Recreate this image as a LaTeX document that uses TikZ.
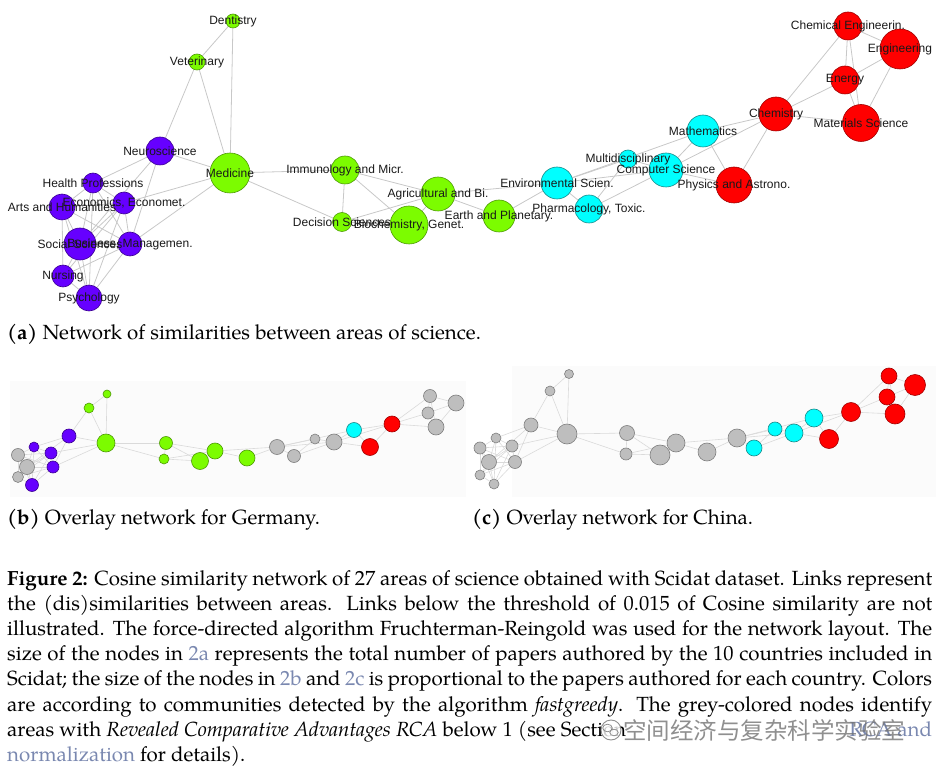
\documentclass[tikz,border=0pt]{standalone}
\usepackage{fontspec}
\setmainfont{texgyrepagella-regular.otf}[BoldFont=texgyrepagella-bold.otf,ItalicFont=texgyrepagella-italic.otf,BoldItalicFont=texgyrepagella-bolditalic.otf]
\newfontfamily\labfont{Liberation Sans}
\newfontfamily\cjkfont{Noto Sans CJK SC}
\definecolor{cg}{HTML}{7CFC00}\definecolor{cgd}{HTML}{4E9A06}
\definecolor{cp}{HTML}{6600FF}\definecolor{cpd}{HTML}{3A0090}
\definecolor{cc}{HTML}{00FFFF}\definecolor{ccd}{HTML}{1A8A8A}
\definecolor{cr}{HTML}{FF0000}\definecolor{crd}{HTML}{A00000}
\definecolor{cy}{HTML}{BEBEBE}\definecolor{cyd}{HTML}{7F7F7F}
\definecolor{lk}{HTML}{7A88B0}
\definecolor{edgea}{HTML}{C8C8C8}
\definecolor{edgeb}{HTML}{DADADA}
\newcommand{\lkt}[1]{\textcolor{lk}{#1}}
\pgfdeclarelayer{bg}
\pgfsetlayers{bg,main}
\tikzset{
  dot/.style={circle,inner sep=0pt,minimum size={2*#1},line width=0.6pt},
  lab/.style={font=\labfont\fontsize{12}{14}\selectfont,text=black!90,inner sep=0pt},
  ea/.style={draw=edgea,line width=0.8pt},
  eb/.style={draw=edgeb,line width=0.6pt},
  captext/.style={anchor=base west,inner sep=0pt,font=\fontsize{20.5}{24}\selectfont},
  panelbg/.style={fill=black!1.5,draw=none}
}
\def\edgelist{den/vet,den/med,vet/med,vet/neu,neu/med,med/imm,med/dec,med/eco,med/bus,neu/hea,neu/bus,neu/soc,hea/art,hea/eco,hea/soc,hea/bus,hea/psy,art/eco,art/soc,art/bus,art/nur,art/psy,eco/soc,eco/bus,eco/nur,eco/psy,soc/bus,soc/nur,soc/psy,bus/nur,bus/psy,nur/psy,imm/dec,imm/bio,imm/agr,dec/agr,dec/bio,agr/bio,agr/ear,agr/env,ear/env,env/pha,env/mul,env/com,env/mat,pha/mul,pha/com,mul/com,com/mat,com/che,com/phy,mat/phy,mat/che,phy/che,che/cen,che/ene,che/mas,cen/eng,cen/ene,cen/mas,eng/ene,eng/mas,ene/mas}
\begin{document}
\begin{tikzpicture}[x=1pt,y=-1pt]
\useasboundingbox (0,0) rectangle (938,770);
% ---------- panel (a) nodes
\foreach \nm/\x/\y/\r/\c in {
 den/233/21/7/g, vet/197/62/8/g, med/230/173/20/g,
 neu/160/151/14/p, hea/93/183/10/p, art/62/207/13/p, eco/124/203/11/p,
 soc/80/244/16/p, bus/130/244/12/p, nur/63/276/11/p, psy/89/298/13/p,
 imm/345/170/14/g, dec/342/222/9.5/g, bio/409/225/19/g, agr/438/194/17/g, ear/499/216/16/g,
 env/557/183/16/c, pha/589/209/14/c, mul/628/159/9/c, com/666/170/17/c, mat/703/131/16/c,
 che/776/114/17/r, phy/734/185/18/r, mas/861/123/18.5/r, ene/845/80/14/r, eng/900/49/20/r, cen/848/26/14/r}
 {\node[dot=\r,fill=c\c,draw=c\c d] (a\nm) at (\x,\y) {};}
% ---------- panel (b) nodes (Germany)
\foreach \nm/\x/\y/\r/\c in {
 art/18/455/6.5/y, soc/27/467/7.5/y, nur/18/477/5.5/y, hea/34/447/5/p, eco/51/453/6/p,
 bus/53/467/6/p, psy/32/485/6.5/p, neu/69/436/7/p, vet/89/408/5/g, den/107/394/4/g,
 med/106/443/9/g, imm/166/443/6.5/g, dec/164/459/5/g, bio/200/461/8.5/g, agr/215/451/8/g,
 ear/247/458/8/g, env/277/447/7.5/y, pha/294/456/6.5/y, mul/315/439/5/y, com/334/442/8/y,
 mat/354/430/7.5/c, phy/370/447/8.5/r, che/392/424/8/r, cen/430/396/6.5/y, ene/428/413/6/y,
 eng/456/403/8/y, mas/436/427/8/y}
 {\node[dot=\r,fill=c\c,draw=c\c d] (b\nm) at (\x,\y) {};}
% ---------- panel (c) nodes (China)
\foreach \nm/\x/\y/\r/\c in {
 art/480/448/6/y, hea/496/438/5/y, eco/512/446/6/y, soc/489/462/7.5/y, bus/515/462/6.5/y,
 nur/480/475/5/y, psy/494/484/5/y, neu/531/425/7/y, vet/550/391/5/y, den/569/374/4.5/y,
 med/567/434/10/y, imm/627/433/7.5/y, dec/626/454/6/y, bio/660/455/10/y, agr/676/443/9/y,
 ear/707/452/9/y, env/737/438/9/y, pha/754/448/8/c, mul/775/429/7/c, com/794/433/9/c,
 mat/814/418/9/c, phy/829/439/9.5/r, che/851/412/9.5/r, cen/889/376/8/r, ene/887/397/8/r,
 eng/915/385/10.5/r, mas/895/414/10/r}
 {\node[dot=\r,fill=c\c,draw=c\c d] (c\nm) at (\x,\y) {};}
% ---------- edges and panel backgrounds
\begin{pgfonlayer}{bg}
 \fill[panelbg] (10,381) rectangle (466,497);
 \fill[panelbg] (512,366) rectangle (936,497);
 \foreach \u/\v in \edgelist {
   \draw[ea] (a\u) -- (a\v);
   \draw[eb] (b\u) -- (b\v);
   \draw[eb] (c\u) -- (c\v);
 }
\end{pgfonlayer}
% ---------- labels of panel (a)
\node[lab] (lden) at (aden) {Dentistry};
\node[lab] (lvet) at (avet) {Veterinary};
\node[lab] (lmed) at (amed) {Medicine};
\node[lab] (lneu) at (aneu) {Neuroscience};
\node[lab] (lhea) at (ahea) {Health Professions};
\node[lab] (lart) at (aart) {Arts and Humanities};
\node[lab] (leco) at (aeco) {Economics, Economet.};
\node[lab] (lsoc) at (asoc) {Social Sciences};
\node[lab] (lbus) at (abus) {Business, Managemen.};
\node[lab] (lnur) at (anur) {Nursing};
\node[lab] (lpsy) at (apsy) {Psychology};
\node[lab] (limm) at (aimm) {Immunology and Micr.};
\node[lab] (ldec) at (adec) {Decision Sciences};
\node[lab] (lbio) at (abio) {Biochemistry, Genet.};
\node[lab] (lagr) at (aagr) {Agricultural and Bi.};
\node[lab] (lear) at (aear) {Earth and Planetary.};
\node[lab] (lenv) at (aenv) {Environmental Scien.};
\node[lab] (lpha) at (apha) {Pharmacology, Toxic.};
\node[lab] (lmul) at (amul) {Multidisciplinary};
\node[lab] (lcom) at (acom) {Computer Science};
\node[lab] (lmat) at (amat) {Mathematics};
\node[lab] (lche) at (ache) {Chemistry};
\node[lab] (lphy) at (aphy) {Physics and Astrono.};
\node[lab] (lmas) at (amas) {Materials Science};
\node[lab] (lene) at (aene) {Energy};
\node[lab] (leng) at (aeng) {Engineering};
\node[lab] (lcen) at (acen) {Chemical Engineerin.};
% ---------- sub-captions
\node[captext] (capa) at (7,340) {\textbf{(a)} Network of similarities between areas of science.};
\node[captext] (capb) at (7,524) {\textbf{(b)} Overlay network for Germany.};
\node[captext] (capc) at (472,524) {\textbf{(c)} Overlay network for China.};
% ---------- main caption
\node[captext] (l1) at (7,585) {\makebox[925pt][s]{\textbf{Figure 2:} Cosine similarity network of 27 areas of science obtained with Scidat dataset. Links represent}};
\node[captext] (l2) at (7,610.24) {\makebox[925pt][s]{the (dis)similarities between areas. Links below the threshold of 0.015 of Cosine similarity are not}};
\node[captext] (l3) at (7,635.48) {\makebox[925pt][s]{illustrated. The force-directed algorithm Fruchterman-Reingold was used for the network layout. The}};
\node[captext] (l4) at (7,660.72) {\makebox[925pt][s]{size of the nodes in \lkt{2a} represents the total number of papers authored by the 10 countries included in}};
\node[captext] (l5) at (7,685.96) {\makebox[925pt][s]{Scidat; the size of the nodes in \lkt{2b} and \lkt{2c} is proportional to the papers authored for each country. Colors}};
\node[captext] (l6) at (7,711.2) {\makebox[925pt][s]{are according to communities detected by the algorithm \textit{fastgreedy}. The grey-colored nodes identify}};
\node[captext] (l7) at (7,736.44) {\makebox[925pt][s]{areas with \textit{Revealed Comparative Advantages RCA} below 1 (see Section\hfill\lkt{RCA and}}};
\node[captext] (l8) at (7,761.68) {\lkt{normalization} for details).};
% ---------- watermark
\begin{scope}[opacity=0.8]
 \draw[black!55,line width=0.9pt,fill=white] (611,730) circle (10);
 \draw[black!55,line width=0.8pt] (607.5,728) ellipse (4.8 and 3.8);
 \draw[black!55,line width=0.8pt,fill=white] (614,732.5) ellipse (4.2 and 3.3);
 \node[inner sep=0pt,anchor=west,text=black!55,font=\cjkfont\fontsize{23.5}{25}\selectfont] (wm) at (623,730) {空间经济与复杂科学实验室};
\end{scope}
\end{tikzpicture}
\end{document}
